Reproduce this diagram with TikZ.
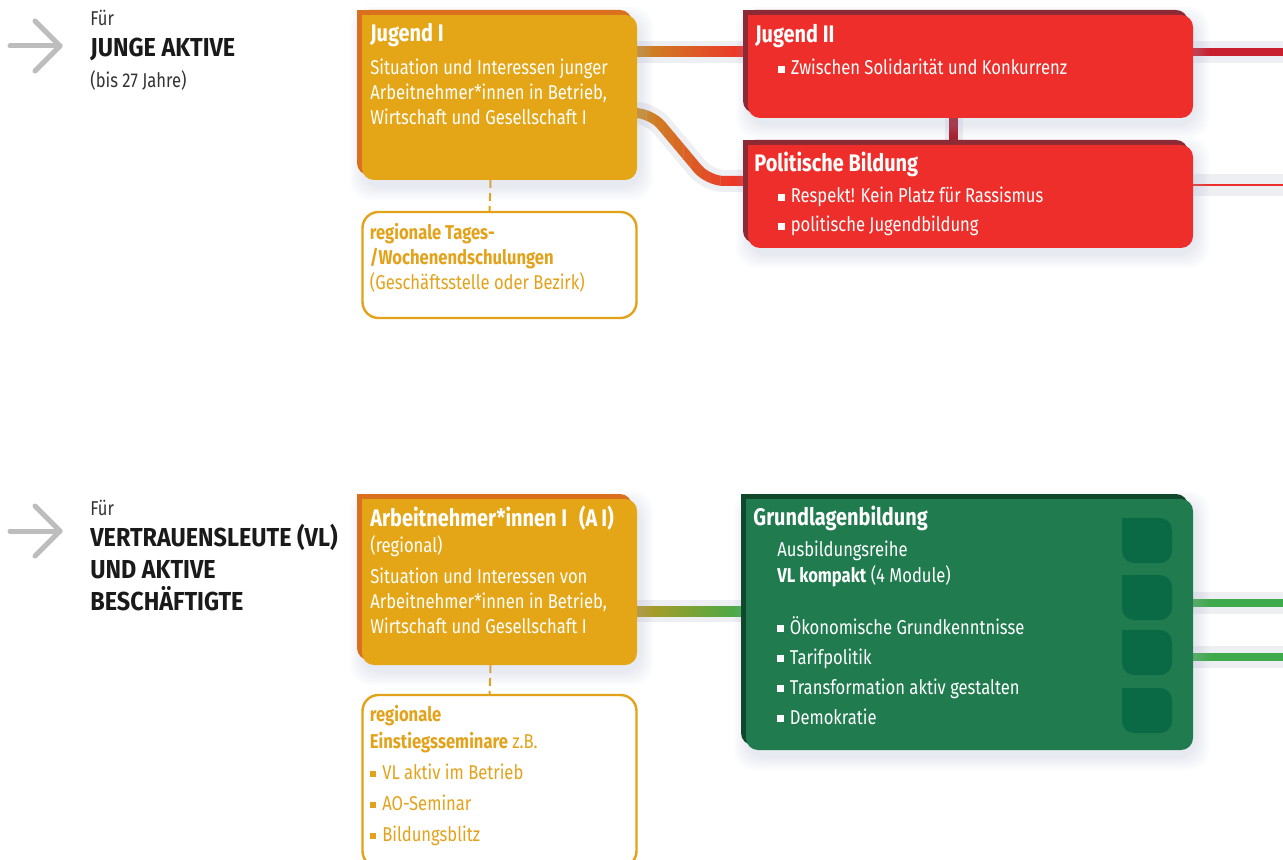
\documentclass[tikz,border=0pt]{standalone}
\usepackage{fontspec}
\setmainfont{Fira Sans}[FakeStretch=0.83]
\usetikzlibrary{positioning, calc, backgrounds}

\definecolor{jugorange}{HTML}{E4A617}
\definecolor{jugorangedark}{HTML}{DA6F1E}
\definecolor{regorange}{HTML}{E3A21A}
\definecolor{linkorange}{HTML}{CB8A22}
\definecolor{jugred}{HTML}{EE2E2A}
\definecolor{jugreddark}{HTML}{8C2A36}
\definecolor{linkred}{HTML}{C8202E}
\definecolor{vlinkred}{HTML}{A61C28}
\definecolor{vlgreen}{HTML}{207C4F}
\definecolor{vlgreendark}{HTML}{10482D}
\definecolor{vltab}{HTML}{0A6A45}
\definecolor{linkolive}{HTML}{B59A22}
\definecolor{linkgreen}{HTML}{3FAA4B}
\definecolor{arrowgray}{HTML}{BDBDBD}
\definecolor{bandgray}{HTML}{EEEFF3}
\definecolor{shadowblue}{HTML}{AEB4D4}
\definecolor{textdark}{HTML}{1A1A1A}
\definecolor{fortext}{HTML}{333333}

\newcommand{\sqb}{\rule[0.12em]{0.32em}{0.32em}\hspace{0.3em}}
% panel: node, back colour, front colour
\newcommand{\panel}[3]{%
  \foreach \s in {2,4,...,14}
    \fill[shadowblue, opacity=0.04, rounded corners=10pt] ([shift={(-\s+2,-\s+6)}]#1.north west) rectangle ([shift={(\s+2,\s+6)}]#1.south east);
  \fill[#2, rounded corners=6pt] ([shift={(-5,-5)}]#1.north west) rectangle ([shift={(-5,-5)}]#1.south east);
  \fill[#2] ([shift={(-5,-5)}]#1.north west) rectangle ++(14,14);
  \fill[#3, rounded corners=6pt] (#1.north west) rectangle (#1.south east);
  \fill[#3] (#1.north west) rectangle ++(14,14);
}

\tikzset{
  panel/.style={anchor=north west, inner sep=0pt, outer sep=0pt},
  paneltitle/.style={anchor=north west, inner sep=0pt, text=white, align=left, font=\fontsize{12}{14}\selectfont\bfseries},
  paneltext/.style={anchor=north west, inner sep=0pt, text=white, align=left, font=\fontsize{10}{12.5}\selectfont},
  regtext/.style={paneltext, text=regorange},
  forlabel/.style={anchor=north west, inner sep=0pt, text=fortext, font=\fontsize{10}{12}\selectfont},
  grouplabel/.style={anchor=north west, inner sep=0pt, text=textdark, align=left, font=\fontsize{13}{16}\selectfont\addfontfeatures{FakeStretch=0.9}\bfseries},
  chevron/.style={draw=arrowgray, line width=2.5pt, line cap=round, line join=round},
  band/.style={draw=bandgray, line width=11pt},
  link/.style={line width=5pt},
  dotlink/.style={draw=regorange, line width=1pt, dash pattern=on 4pt off 2.5pt},
  regbox/.style={draw=regorange, line width=1.2pt, fill=white},
}

\begin{document}
\begin{tikzpicture}[x=0.5pt, y=-0.5pt]
    \useasboundingbox (0,0) rectangle (1283,860);

    % Zielgruppen
    \draw[chevron] (10,46) -- (60,46);
    \draw[chevron] (35,21) -- (60,46) -- (35,71);
    \node[forlabel] (for1) at (90,10) {Für};
    \node[grouplabel] (group1) at (90,38) {JUNGE AKTIVE};
    \node[forlabel] (age1) at (90,70) {(bis 27 Jahre)};

    \draw[chevron] (10,531) -- (60,531);
    \draw[chevron] (35,506) -- (60,531) -- (35,556);
    \node[forlabel] (for2) at (90,500) {Für};
    \node[grouplabel] (group2) at (90,524) {VERTRAUENSLEUTE (VL)\\UND AKTIVE\\BESCHÄFTIGTE};

    % Jugend
    \node[panel, minimum width=137.5pt, minimum height=82.5pt] (jug1) at (362,15) {};
    \node[panel, minimum width=137pt, minimum height=53pt, below=16pt of jug1] (reg1) {};
    \node[panel, minimum width=222.5pt, minimum height=51.5pt, right=55.5pt of jug1.north east, anchor=north west] (jug2) {};
    \node[panel, minimum width=222.5pt, minimum height=51.5pt, below=13.5pt of jug2] (polb) {};

    \node[paneltitle] (jug1t) at ($(jug1.north west)+(8,8)$) {Jugend I};
    \node[paneltext] (jug1b) at ($(jug1.north west)+(8,44)$) {Situation und Interessen junger\\Arbeitnehmer*innen in Betrieb,\\Wirtschaft und Gesellschaft I};
    \node[regtext] (reg1b) at ($(reg1.north west)+(7,11)$) {\textbf{regionale Tages-}\\\textbf{/Wochenendschulungen}\\(Geschäftsstelle oder Bezirk)};
    \node[paneltitle] (jug2t) at ($(jug2.north west)+(7,9)$) {Jugend II};
    \node[paneltext] (jug2b) at ($(jug2.north west)+(30,44)$) {\sqb Zwischen Solidarität und Konkurrenz};
    \node[paneltitle] (polbt) at ($(polb.north west)+(6,7)$) {Politische Bildung};
    \node[paneltext] (polbb) at ($(polb.north west)+(30,42)$) {\sqb Respekt! Kein Platz für Rassismus\\[2pt]\sqb politische Jugendbildung};

    % Vertrauensleute
    \node[panel, minimum width=137.5pt, minimum height=83pt] (ai) at (362,499) {};
    \node[panel, minimum width=137pt, minimum height=86pt, below=15pt of ai] (reg2) {};
    \node[panel, minimum width=223.5pt, minimum height=125.5pt, right=54.5pt of ai.north east, anchor=north west] (grund) {};

    \node[paneltitle] (ait) at ($(ai.north west)+(8,6)$) {Arbeitnehmer*innen I\enspace(A\,I)};
    \node[paneltext] (aib) at ($(ai.north west)+(8,36)$) {(regional)\\[3pt]Situation und Interessen von\\Arbeitnehmer*innen in Betrieb,\\Wirtschaft und Gesellschaft I};
    \node[regtext] (reg2b) at ($(reg2.north west)+(7,10)$) {\textbf{regionale}\\[1pt]\textbf{Einstiegsseminare} z.B.\\[3pt]\sqb VL aktiv im Betrieb\\[3pt]\sqb AO-Seminar\\[3pt]\sqb Bildungsblitz};
    \node[paneltitle] (grundt) at ($(grund.north west)+(7,7)$) {Grundlagenbildung};
    \node[paneltext] (grunds) at ($(grund.north west)+(31,41)$) {Ausbildungsreihe\\[0.5pt]\textbf{VL kompakt} (4 Module)};
    \node[paneltext] (grundb) at ($(grund.north west)+(31,117)$) {\sqb Ökonomische Grundkenntnisse\\[2.5pt]\sqb Tarifpolitik\\[2.5pt]\sqb Transformation aktiv gestalten\\[2.5pt]\sqb Demokratie};

    \coordinate (out1) at (1283,52);
    \coordinate (out2) at (1283,185);
    \coordinate (out3) at (1283,603);
    \coordinate (out4) at (1283,657);
    \coordinate (bend start) at ($(jug1.north east)+(0,98)$);
    \coordinate (bend end) at ($(polb.north west)+(0,36)$);

    \begin{scope}[on background layer]
        \fill[white] (0,0) rectangle (1283,860);

        % Verbindungen
        \draw[band] ($(jug1.north east)+(0,37)$) -- ($(jug2.north west)+(0,37)$);
        \shade[left color=linkorange, right color=jugred] ($(jug1.north east)+(0,32)$) rectangle ($(jug2.north west)+(0,42)$);

        \draw[band, rounded corners=8pt] (bend start) -- ++(14,0) -- ($(bend end)+(-40,0)$) -- (bend end);
        \foreach \i in {0,...,11} {
            \pgfmathtruncatemacro\mix{100-\i*9}
            \begin{scope}
                \clip ($(bend start)+(\i*9.25,-20)$) rectangle ++(9.6,110);
                \draw[link, draw=linkorange!\mix!jugred, rounded corners=8pt] (bend start) -- ++(14,0) -- ($(bend end)+(-40,0)$) -- (bend end);
            \end{scope}
        }

        \draw[band] ($(jug2.north east)+(0,37)$) -- (out1);
        \draw[link, draw=linkred, line width=4pt] ($(jug2.north east)+(0,37)$) -- (out1);
        \draw[band] ($(polb.north east)+(0,40)$) -- (out2);
        \draw[draw=jugred, line width=1pt] ($(polb.north east)+(0,40)$) -- (out2);
        \draw[band, line width=9pt] ($(jug2.south)+(-17,0)$) -- ($(polb.north)+(-17,0)$);
        \draw[link, draw=vlinkred, line width=4.5pt] ($(jug2.south)+(-17,0)$) -- ($(polb.north)+(-17,0)$);

        \draw[band] ($(ai.north east)+(0,112)$) -- ($(grund.north west)+(0,112)$);
        \shade[left color=linkolive, right color=linkgreen] ($(ai.north east)+(0,107)$) rectangle ($(grund.north west)+(0,117)$);
        \draw[band] ($(grund.north east)+(0,104)$) -- (out3);
        \draw[link, draw=linkgreen, line width=4pt] ($(grund.north east)+(0,104)$) -- (out3);
        \draw[band] ($(grund.north east)+(0,158)$) -- (out4);
        \draw[link, draw=linkgreen, line width=4pt] ($(grund.north east)+(0,158)$) -- (out4);

        \draw[dotlink] ($(jug1.south)+(-9,0)$) -- ($(reg1.north)+(-10,0)$);
        \draw[dotlink] ($(ai.south)+(-9,0)$) -- ($(reg2.north)+(-10,0)$);

        % Kaesten
        \panel{jug1}{jugorangedark}{jugorange}
        \panel{jug2}{jugreddark}{jugred}
        \panel{polb}{jugreddark}{jugred}
        \panel{ai}{jugorangedark}{jugorange}
        \panel{grund}{vlgreendark}{vlgreen}
        \draw[regbox, rounded corners=8pt] (reg1.north west) rectangle (reg1.south east);
        \draw[regbox, rounded corners=8pt] (reg2.north west) rectangle (reg2.south east);
        \foreach \t in {19,76,131,189} {
            \fill[vltab, rounded corners=6pt] ($(grund.north east)+(-71,\t)$) rectangle ++(50,45);
            \fill[vltab] ($(grund.north east)+(-71,\t)$) rectangle ++(10,10);
        }
    \end{scope}
\end{tikzpicture}
\end{document}
